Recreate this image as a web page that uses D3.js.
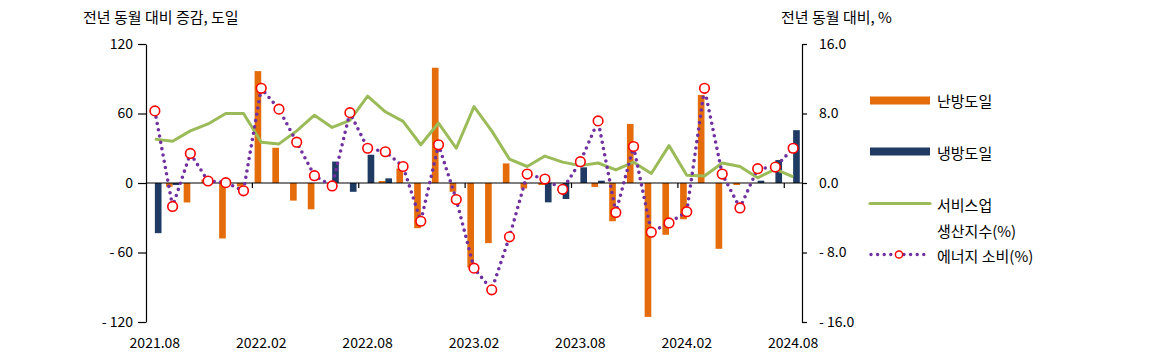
<!DOCTYPE html>
<html><head><meta charset="utf-8">
<script src="https://cdn.jsdelivr.net/npm/d3@7"></script>
<style>
html,body{margin:0;padding:0;background:#fff;}
svg{display:block;font-family:"Noto Sans CJK KR","Noto Sans",sans-serif;}
</style></head>
<body>
<svg id="chart" width="1174" height="363"></svg>
<script>
// ---- data ----
const months = ["2021.08","2021.09","2021.10","2021.11","2021.12","2022.01","2022.02","2022.03","2022.04","2022.05","2022.06","2022.07",
"2022.08","2022.09","2022.10","2022.11","2022.12","2023.01","2023.02","2023.03","2023.04","2023.05","2023.06","2023.07",
"2023.08","2023.09","2023.10","2023.11","2023.12","2024.01","2024.02","2024.03","2024.04","2024.05","2024.06","2024.07","2024.08"];
const xTickLabels = ["2021.08","2022.02","2022.08","2023.02","2023.08","2024.02","2024.08"];
// 난방도일 (heating degree days, YoY change)
const heating = [0,-3.2,-16.8,3,-47.9,-3,96.6,30.4,-15.2,-22.7,0,0,
0,1.7,12.5,-39,99.5,-7.6,-73,-51.9,16.9,-4.7,-1.7,0,
0,-3.4,-33,51,-115.6,-44.7,-31.3,76,-56.8,-1.7,0,0,0];
// 냉방도일 (cooling degree days, YoY change)
const cooling = [-43.3,-1.7,0,0,0,0,0,0,0,0,18.5,-7.6,
24.4,4,0,0,0,0,0,0,0,0,-16.7,-13.8,
13.5,2,0,0,0,0,0,0,0,0,2,19.8,45.6];
// 서비스업 생산지수 (%)
const services = [5.05,4.8,6.0,6.8,8.0,8.0,4.7,4.5,6.0,7.8,6.4,7.2,
10.0,8.2,7.1,4.4,6.9,4.0,8.8,6.0,2.75,1.9,3.1,2.4,
2.0,2.3,1.5,2.4,1.1,4.3,0.9,0.8,2.3,1.9,0.6,1.6,0.7];
// 에너지 소비 (%)
const energy = [8.3,-2.7,3.4,0.23,0.04,-0.9,10.9,8.5,4.7,0.84,-0.34,8.1,
4.0,3.6,1.9,-4.4,4.4,-1.9,-9.8,-12.3,-6.2,1.03,0.46,-0.73,
2.45,7.15,-3.4,4.2,-5.66,-4.6,-3.3,10.9,1.03,-2.87,1.65,1.83,4.0];
const leftTicks = [-120,-60,0,60,120];
const rightTicks = [-16,-8,0,8,16];
const barSeries = ["난방도일","냉방도일"];

// ---- layout ----
const L = 146, R = 802, T = 44, B = 322;
const C = {heat:"#E46C0A", cool:"#1F3A63", serv:"#9BBB59", energy:"#7030A0", marker:"#FF0000", text:"#000"};
const svg = d3.select("#chart");

const x = d3.scaleBand().domain(months).range([L,R]).paddingInner(0.25).paddingOuter(0.125);
const x1 = d3.scaleBand().domain(barSeries).range([0,x.bandwidth()]);
const step = x.step();
const cx = m => x(m) + x.bandwidth()/2;
const yL = d3.scaleLinear().domain([-120,120]).range([B,T]);
const yR = d3.scaleLinear().domain([-16,16]).range([B,T]);

// bars
const g = svg.append("g");
const barData = [];
months.forEach((m,i)=>{
  barData.push({m, s:"난방도일", v:heating[i], c:C.heat});
  barData.push({m, s:"냉방도일", v:cooling[i], c:C.cool});
});
g.selectAll("rect.bar").data(barData.filter(d=>d.v!==0)).join("rect")
  .attr("class","bar")
  .attr("x", d=>x(d.m)+x1(d.s))
  .attr("width", x1.bandwidth())
  .attr("y", d=>Math.min(yL(d.v), yL(0)))
  .attr("height", d=>Math.abs(yL(d.v)-yL(0)))
  .attr("fill", d=>d.c);

// zero line + category ticks
svg.append("line").attr("x1",L).attr("x2",R).attr("y1",yL(0)).attr("y2",yL(0))
  .attr("stroke","#000").attr("stroke-width",1.2);
const tickIdx = months.map((m,i)=>i).filter(i=>i%6===0 && i>0);
svg.selectAll("line.xt").data(tickIdx).join("line").attr("class","xt")
  .attr("x1", i=>x(months[i]) - step*0.125).attr("x2", i=>x(months[i]) - step*0.125)
  .attr("y1", yL(0)).attr("y2", yL(0)+5).attr("stroke","#000").attr("stroke-width",1.2);
svg.selectAll("text.xl").data(xTickLabels).join("text").attr("class","xl")
  .attr("x", d=>cx(d)).attr("y", 348).attr("text-anchor","middle")
  .attr("font-size",14).attr("fill",C.text).text(d=>d);

// services line
const lineR = d3.line().x((d,i)=>cx(months[i])).y(d=>yR(d));
svg.append("path").datum(services).attr("d", lineR)
  .attr("fill","none").attr("stroke",C.serv).attr("stroke-width",3).attr("stroke-linejoin","round");

// energy dotted line
svg.append("path").datum(energy).attr("d", lineR)
  .attr("fill","none").attr("stroke",C.energy).attr("stroke-width",3.6)
  .attr("stroke-linecap","round").attr("stroke-dasharray","0 6.4");
svg.selectAll("circle.en").data(energy).join("circle").attr("class","en")
  .attr("cx",(d,i)=>cx(months[i])).attr("cy",d=>yR(d)).attr("r",4.8)
  .attr("fill","#fff").attr("stroke",C.marker).attr("stroke-width",1.6);

// axes
const fmtL = d => d<0 ? "- "+Math.abs(d) : String(d);
const fmtR = d => d<0 ? "- "+Math.abs(d).toFixed(1) : d.toFixed(1);
const axL = svg.append("g").attr("transform",`translate(${L},0)`)
  .call(d3.axisLeft(yL).tickValues(leftTicks).tickFormat(fmtL).tickSize(8).tickSizeOuter(0).tickPadding(5));
const axR = svg.append("g").attr("transform",`translate(${R},0)`)
  .call(d3.axisRight(yR).tickValues(rightTicks).tickFormat(fmtR).tickSize(5).tickSizeOuter(0).tickPadding(12));
[axL,axR].forEach(a=>{
  a.select(".domain").attr("stroke","#000").attr("stroke-width",1.2);
  a.selectAll(".tick line").attr("stroke","#000").attr("stroke-width",1.2);
  a.selectAll(".tick text").attr("font-size",14).attr("fill",C.text)
   .attr("font-family",'"Noto Sans CJK KR","Noto Sans",sans-serif');
});

// titles
svg.append("text").attr("x",83).attr("y",23).attr("font-size",15).attr("fill",C.text).text("전년 동월 대비 증감, 도일");
svg.append("text").attr("x",781).attr("y",23).attr("font-size",15).attr("fill",C.text).text("전년 동월 대비, %");

// legend
const lg = svg.append("g");
lg.append("rect").attr("x",870).attr("y",96.5).attr("width",60).attr("height",8).attr("fill",C.heat);
lg.append("rect").attr("x",870).attr("y",147.5).attr("width",60).attr("height",8).attr("fill",C.cool);
lg.append("line").attr("x1",870).attr("x2",930).attr("y1",203.5).attr("y2",203.5)
  .attr("stroke",C.serv).attr("stroke-width",3.2).attr("stroke-linecap","round");
lg.append("line").attr("x1",871).attr("x2",930).attr("y1",254.5).attr("y2",254.5)
  .attr("stroke",C.energy).attr("stroke-width",3.4).attr("stroke-linecap","round").attr("stroke-dasharray","0 6.6");
lg.append("circle").attr("cx",899).attr("cy",254.5).attr("r",3.6).attr("fill","#fff").attr("stroke",C.marker).attr("stroke-width",1.5);
const legTexts = [["난방도일",100.5],["냉방도일",152],["서비스업",204],["생산지수(%)",230.5],["에너지 소비(%)",255]];
lg.selectAll("text").data(legTexts).join("text")
  .attr("x",937).attr("y",d=>d[1]).attr("dominant-baseline","central")
  .attr("font-size",15).attr("fill",C.text).text(d=>d[0]);
</script>
</body></html>
